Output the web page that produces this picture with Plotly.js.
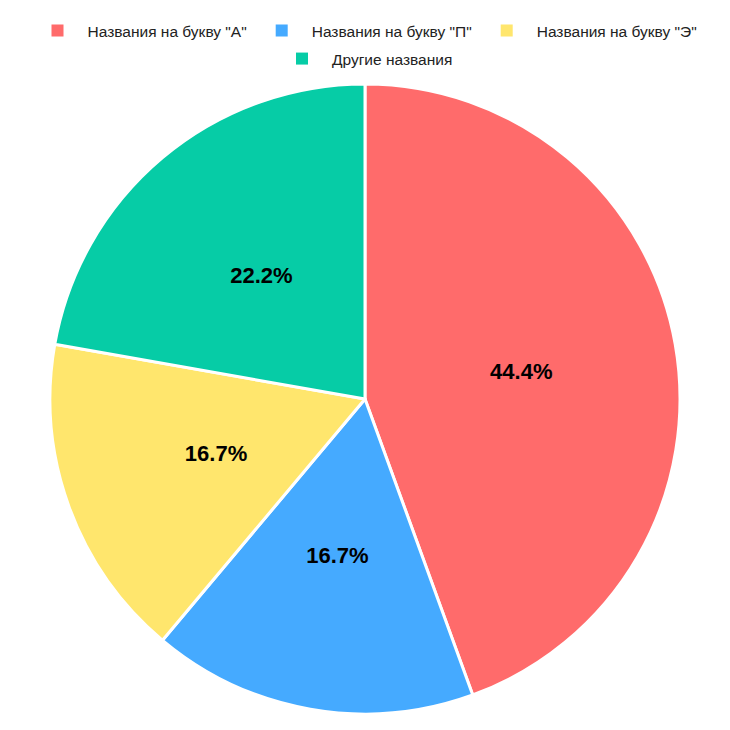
<!DOCTYPE html>
<html>
<head>
<meta charset="utf-8">
<script src="https://cdn.plot.ly/plotly-3.0.1.min.js"></script>
<style>body{margin:0;background:#fff}#chart{width:730px;height:730px}</style>
</head>
<body>
<div id="chart"></div>
<script>
const categories = ['Названия на букву "А"', 'Названия на букву "П"', 'Названия на букву "Э"', 'Другие названия'];
const values = [8, 3, 3, 4];
const colors = ['#FF6B6B', '#45AAFF', '#FFE66D', '#06CCA6'];

const FONT = 'Liberation Sans, Arial, sans-serif';
const CLEAR = 'rgba(0,0,0,0)';
const S1 = 0.755; // overlay scale for label placement (small slices)
const S2 = 0.84;  // overlay scale for the 4th slice label
const T = 0.01;   // tiny legend-only pies hidden under the main pie
const P = '%{percent:.1%}';
const W = 730, PIE = 630;
const hx = PIE / W / 2; // half domain width for the full pie

const base = {
  type: 'pie', labels: categories, values: values, sort: false,
  direction: 'clockwise', rotation: 0, textinfo: 'none',
  textposition: 'inside', insidetextorientation: 'horizontal'
};
const tiny = {x: [0.5 - T, 0.5 + T], y: [0.5 - T, 0.5 + T]};
const labelFont = {family: FONT, size: 22, weight: 'bold', color: '#000'};
const overlay = (s, tmpl) => Object.assign({}, base, {
  domain: {x: [0.5 - hx * s, 0.5 + hx * s], y: [0.5 - s/2, 0.5 + s/2]},
  marker: {colors: [CLEAR, CLEAR, CLEAR, CLEAR], line: {width: 0}},
  texttemplate: tmpl, textfont: labelFont, showlegend: false, hoverinfo: 'skip'
});

const traces = [
  {
    type: 'pie', labels: categories.slice(0, 3), values: values.slice(0, 3), sort: false,
    marker: {colors: colors.slice(0, 3), line: {width: 0}}, textinfo: 'none',
    domain: tiny, legend: 'legend', hoverinfo: 'skip'
  },
  {
    type: 'pie', labels: categories.slice(3), values: values.slice(3), sort: false,
    marker: {colors: colors.slice(3), line: {width: 0}}, textinfo: 'none',
    domain: tiny, legend: 'legend2', hoverinfo: 'skip'
  },
  Object.assign({}, base, {
    domain: {x: [0.5 - hx, 0.5 + hx], y: [0, 1]},
    marker: {colors: colors, line: {color: '#ffffff', width: 3}},
    texttemplate: [P, '', '', ''],
    textfont: labelFont, showlegend: false, hoverinfo: 'label+percent'
  }),
  overlay(S1, ['', P, P, '']),
  overlay(S2, ['', '', '', P])
];

const legendFont = {family: FONT, size: 15.5, color: '#222'};
Plotly.newPlot('chart', traces, {
  width: 730, height: 730,
  margin: {l: 0, r: 0, t: 84, b: 16},
  paper_bgcolor: '#ffffff',
  showlegend: true,
  legend: {orientation: 'h', x: 0.5, xanchor: 'center', xref: 'container', yref: 'container',
    y: 1 - 31/730, yanchor: 'middle', font: legendFont, traceorder: 'normal', itemwidth: 50},
  legend2: {orientation: 'h', x: 0.5, xanchor: 'center', xref: 'container', yref: 'container',
    y: 1 - 59/730, yanchor: 'middle', font: legendFont, itemwidth: 50},
  font: {family: FONT}
}, {displayModeBar: false});
</script>
</body>
</html>
